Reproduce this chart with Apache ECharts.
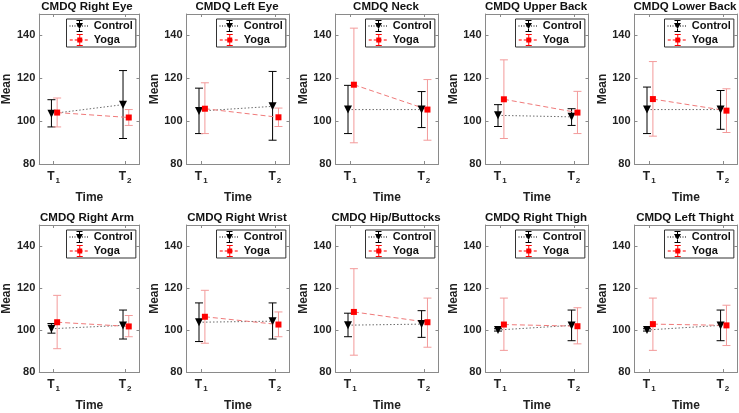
<!DOCTYPE html>
<html>
<head>
<meta charset="utf-8">
<script src="https://cdn.jsdelivr.net/npm/echarts@6/dist/echarts.min.js"></script>
<style>
html,body{margin:0;padding:0;background:#fff;}
#chart{width:739px;height:413px;}
</style>
</head>
<body>
<div id="chart"></div>
<script>
// ---- data ----
const panelTitles = ['CMDQ Right Eye', 'CMDQ Left Eye', 'CMDQ Neck', 'CMDQ Upper Back', 'CMDQ Lower Back',
  'CMDQ Right Arm', 'CMDQ Right Wrist', 'CMDQ Hip/Buttocks', 'CMDQ Right Thigh', 'CMDQ Left Thight'];
const timePoints = [1, 2];
const timeTickLabels = [['T', '1'], ['T', '2']];
const yTicks = [80, 100, 120, 140];
const seriesNames = ['Control', 'Yoga'];
const xAxisName = 'Time';
const yAxisName = 'Mean';

const controlMean = [[103.5,107.7],[104.7,106.9],[105.4,105.4],[102.7,102.0],[105.4,105.4],
  [100.6,102.2],[103.7,104.2],[102.3,102.8],[100.0,102.2],[100.0,102.2]];
const controlLow = [[97.3,91.9],[94.2,91.1],[94.2,97.0],[97.5,98.0],[94.2,96.2],
  [98.5,95.7],[94.5,95.7],[96.8,96.5],[99.5,94.9],[99.5,94.9]];
const controlHigh = [[110.0,123.6],[115.4,123.2],[116.7,113.8],[107.7,105.8],[115.9,114.3],
  [103.1,109.5],[112.9,112.9],[108.0,109.2],[100.6,109.5],[100.6,109.5]];
const yogaMean = [[104.0,101.7],[105.8,101.8],[117.0,105.4],[110.2,104.0],[110.3,104.9],
  [103.7,101.7],[106.3,102.6],[108.6,103.7],[102.6,101.8],[102.8,102.2]];
const yogaLow = [[97.3,98.0],[94.2,97.5],[89.9,91.1],[91.9,94.2],[93.0,94.7],
  [91.1,96.8],[93.7,96.8],[88.0,91.8],[90.3,93.4],[90.3,92.6]];
const yogaHigh = [[110.8,105.4],[117.9,106.1],[143.4,119.4],[128.6,113.9],[127.8,115.1],
  [116.5,106.9],[118.9,108.6],[129.2,115.2],[115.2,110.6],[115.2,111.8]];

// ---- layout / style ----
const FONT = 'Liberation Sans, Arial, Helvetica, sans-serif';
const colLeft = [36.5, 186.5, 335.5, 485.5, 634.5];
const boxW = 103;
const rowTop = [14, 225];
const rowH = [150, 152];
const X_MIN = 0.8, X_MAX = 2.2;
const ctrlOffset = -0.03, yogaOffset = 0.05;
const AXIS_COLOR = '#8a8a8a';
const CTRL_COLOR = '#000000';
const CTRL_LINE = '#6e6e6e';
const YOGA_COLOR = '#ff0000';
const YOGA_LINE = '#f07a7a';
const YOGA_BAR = '#f39a9a';

// legend icons (20 x 12 box): line + marker + errorbar
function dotsPath(step, len) {
  let p = '';
  for (let x = 0; x < 20; x += step) {
    const x2 = Math.min(20, x + len);
    p += 'M' + x + ' 5.5L' + x2 + ' 5.5L' + x2 + ' 6.5L' + x + ' 6.5Z';
  }
  return p;
}
const barPath = 'M9.5 0L10.5 0L10.5 12L9.5 12ZM7 0L13 0L13 1L7 1ZM7 11L13 11L13 12L7 12Z';
const ctrlIcon = 'path://' + dotsPath(2.5, 1) + barPath + 'M6.5 3L13.5 3L10 9Z';
const yogaIcon = 'path://' + dotsPath(5, 3) + barPath + 'M7.5 3.5L12.5 3.5L12.5 8.5L7.5 8.5Z';

const grids = [], xAxes = [], yAxes = [], series = [], legends = [], graphics = [];

function errRender(color) {
  return function (params, api) {
    const x = api.value(0), lo = api.value(1), hi = api.value(2);
    const a = api.coord([x, lo]), b = api.coord([x, hi]);
    const hw = 4;
    const st = { stroke: color, lineWidth: 1 };
    return {
      type: 'group',
      children: [
        { type: 'line', shape: { x1: a[0], y1: a[1], x2: b[0], y2: b[1] }, style: st },
        { type: 'line', shape: { x1: a[0] - hw, y1: a[1], x2: a[0] + hw, y2: a[1] }, style: st },
        { type: 'line', shape: { x1: b[0] - hw, y1: b[1], x2: b[0] + hw, y2: b[1] }, style: st }
      ]
    };
  };
}

for (let i = 0; i < panelTitles.length; i++) {
  const r = Math.floor(i / 5), c = i % 5;
  const left = colLeft[c], top = rowTop[r], h = rowH[r];
  grids.push({ left: left, top: top, width: boxW, height: h, containLabel: false });

  const xBase = {
    gridIndex: i, type: 'value', min: X_MIN, max: X_MAX,
    axisLine: { show: true, onZero: false, lineStyle: { color: AXIS_COLOR, width: 1 } },
    axisTick: { show: true, inside: true, length: 3, customValues: timePoints, lineStyle: { color: AXIS_COLOR } },
    splitLine: { show: false }
  };
  xAxes.push(Object.assign({}, xBase, {
    position: 'bottom',
    name: xAxisName, nameLocation: 'middle', nameGap: 28,
    nameTextStyle: { fontFamily: FONT, fontSize: 12, fontWeight: 'bold', color: '#222' },
    axisLabel: {
      show: true, margin: 5, customValues: timePoints,
      formatter: function (v) {
        const k = timePoints.indexOf(Math.round(v));
        return '{a|' + timeTickLabels[k][0] + '}{b|' + timeTickLabels[k][1] + '}';
      },
      rich: {
        a: { fontFamily: FONT, fontSize: 12, fontWeight: 'bold', color: '#222' },
        b: { fontFamily: FONT, fontSize: 8, fontWeight: 'bold', color: '#222', padding: [8, 0, 0, 1] }
      }
    }
  }));
  xAxes.push(Object.assign({}, xBase, { position: 'top', axisLabel: { show: false } }));

  const yBase = {
    gridIndex: i, type: 'value', min: 80, max: 150, interval: 20,
    axisLine: { show: true, onZero: false, lineStyle: { color: AXIS_COLOR, width: 1 } },
    axisTick: { show: true, inside: true, length: 3, customValues: yTicks, lineStyle: { color: AXIS_COLOR } },
    splitLine: { show: false }
  };
  yAxes.push(Object.assign({}, yBase, {
    position: 'left',
    name: yAxisName, nameLocation: 'middle', nameGap: 23,
    nameTextStyle: { fontFamily: FONT, fontSize: 12, fontWeight: 'bold', color: '#222' },
    axisLabel: { show: true, margin: 4, customValues: yTicks, fontFamily: FONT, fontSize: 11, fontWeight: 'bold', color: '#222' }
  }));
  yAxes.push(Object.assign({}, yBase, { position: 'right', axisLabel: { show: false } }));

  const xi = i * 2, yi = i * 2;
  const ctrlX = timePoints.map(t => t + ctrlOffset);
  const yogaX = timePoints.map(t => t + yogaOffset);

  series.push({
    type: 'custom', name: 'Control SD', xAxisIndex: xi, yAxisIndex: yi, z: 2,
    renderItem: errRender(CTRL_COLOR), encode: { x: 0, y: [1, 2] },
    data: ctrlX.map((x, k) => [x, controlLow[i][k], controlHigh[i][k]]), silent: true
  });
  series.push({
    type: 'custom', name: 'Yoga SD', xAxisIndex: xi, yAxisIndex: yi, z: 2,
    renderItem: errRender(YOGA_BAR), encode: { x: 0, y: [1, 2] },
    data: yogaX.map((x, k) => [x, yogaLow[i][k], yogaHigh[i][k]]), silent: true
  });
  series.push({
    type: 'line', name: seriesNames[0], xAxisIndex: xi, yAxisIndex: yi, z: 3,
    data: ctrlX.map((x, k) => [x, controlMean[i][k]]),
    symbol: 'triangle', symbolRotate: 180, symbolSize: 8, showAllSymbol: true,
    itemStyle: { color: CTRL_COLOR, borderWidth: 0 },
    lineStyle: { color: CTRL_LINE, width: 1, type: [1.5, 2] },
    animation: false
  });
  series.push({
    type: 'line', name: seriesNames[1], xAxisIndex: xi, yAxisIndex: yi, z: 3,
    data: yogaX.map((x, k) => [x, yogaMean[i][k]]),
    symbol: 'rect', symbolSize: 6, showAllSymbol: true,
    itemStyle: { color: YOGA_COLOR, borderWidth: 0 },
    lineStyle: { color: YOGA_LINE, width: 1, type: [5, 3] },
    animation: false
  });

  legends.push({
    orient: 'vertical', left: left + 30, top: top + 5,
    data: [{ name: seriesNames[0], icon: ctrlIcon }, { name: seriesNames[1], icon: yogaIcon }],
    itemWidth: 20, itemHeight: 12, itemGap: 2,
    padding: [1, 3, 1, 3],
    backgroundColor: '#fff', borderColor: '#333', borderWidth: 1,
    selectedMode: false,
    itemStyle: { borderWidth: 0 },
    textStyle: { fontFamily: FONT, fontSize: 11, fontWeight: 'bold', color: '#111', padding: [0, 0, 0, 0] }
  });

  graphics.push({
    type: 'text', x: left + boxW / 2 - 1, y: top - 7,
    style: { text: panelTitles[i], fill: '#111', font: 'bold 11.5px ' + FONT, align: 'center', verticalAlign: 'middle' }
  });
}

const chart = echarts.init(document.getElementById('chart'), null, { renderer: 'canvas' });
chart.setOption({
  animation: false,
  backgroundColor: '#ffffff',
  grid: grids, xAxis: xAxes, yAxis: yAxes, series: series, legend: legends,
  graphic: graphics
});
</script>
</body>
</html>
